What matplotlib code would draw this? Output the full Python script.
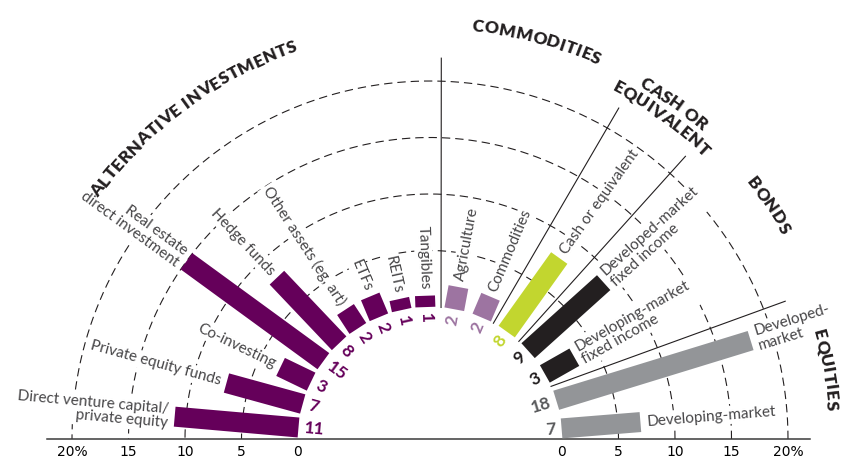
import numpy as np
import matplotlib
matplotlib.use("Agg")
import matplotlib.pyplot as plt
from matplotlib.font_manager import FontProperties, findfont, get_font
from matplotlib.transforms import Affine2D

# values (% of allocation)
categories = [
    "Direct venture capital/\nprivate equity", "Private equity funds", "Co-investing",
    "Real estate\ndirect investment", "Hedge funds", "Other assets (eg, art)",
    "ETFs", "REITs", "Tangibles",
    "Agriculture", "Commodities",
    "Cash or equivalent",
    "Developed-market\nfixed income", "Developing-market\nfixed income",
    "Developed-\nmarket", "Developing-market",
]
values = [11, 7, 3, 15, 8, 2, 2, 1, 1, 2, 2, 8, 9, 3, 18, 7]
groups = (["alt"] * 9 + ["comm"] * 2 + ["cash"] + ["bonds"] * 2 + ["eq"] * 2)
group_titles = ["ALTERNATIVE INVESTMENTS", "COMMODITIES", "CASH OR", "EQUIVALENT",
                "BONDS", "EQUITIES"]
scale_ticks = [20, 15, 10, 5, 0]
grid_levels = [5, 10, 15, 20]

bar_colors = {"alt": "#65005a", "comm": "#9d74a1", "cash": "#c2d62f",
              "bonds": "#231f20", "eq": "#939598"}
value_colors = {"alt": "#65005a", "comm": "#9d74a1", "cash": "#c2d62f",
                "bonds": "#231f20", "eq": "#58595b"}

# layout (pixels -> data units, one unit = one percentage point)
DPI = 100
S = 11.3                  # px per percentage point
CX, CY = 430, 439         # centre of the half circle in px
R0 = 132 / S              # hole radius
BW = 20 / S               # bar thickness
PAD = 0.55
TEXT = "#464547"

n_left = groups.count("alt")
n_right = len(values) - n_left
angles = np.concatenate([np.linspace(175, 92, n_left), np.linspace(79.4, 4.6, n_right)])

fig = plt.figure(figsize=(842 / DPI, 459 / DPI), dpi=DPI)
ax = fig.add_axes([0, 0, 1, 1])
ax.set_xlim(-CX / S, (842 - CX) / S)
ax.set_ylim(-(459 - CY) / S, CY / S)

fp_label = FontProperties(family="Lato", weight="normal", size=11)
fp_value = FontProperties(family="Lato", weight="bold", size=12.5)
fp_title = FontProperties(family="Lato", weight="heavy", size=12.5)
fp_tick = FontProperties(family="Lato", weight="normal", size=12.5)

# dashed rings
t = np.linspace(0, np.pi, 500)
for lv in grid_levels:
    r = R0 + lv
    ax.plot(r * np.cos(t), r * np.sin(t), color="#231f20", lw=0.8,
            dashes=(7.5, 4.5), zorder=1)

# group separators (inner angle, outer angle)
seps = [(85.2, 88.3), (61.3, 60.3), (47.7, 47.9), (23.5, 21.2)]
r_out = 381 / S
for a_in, a_out in seps:
    ai, ao = np.radians(a_in), np.radians(a_out)
    ax.plot([R0 * np.cos(ai), r_out * np.cos(ao)], [R0 * np.sin(ai), r_out * np.sin(ao)],
            color="#231f20", lw=0.8, zorder=2)

# bars, labels, values
for cat, v, g, th in zip(categories, values, groups, angles):
    tr = Affine2D().rotate_deg(th) + ax.transData
    ax.barh(0, v, left=R0, height=BW, color=bar_colors[g], transform=tr, zorder=4)
    u = np.array([np.cos(np.radians(th)), np.sin(np.radians(th))])
    left = th > 90
    rot = th - 180 if left else th
    p_val = (R0 - PAD) * u
    ax.text(p_val[0], p_val[1], str(v), fontproperties=fp_value, color=value_colors[g],
            rotation=rot, rotation_mode="anchor", ha="left" if left else "right",
            va="center", zorder=5)
    p_lab = (R0 + v + PAD) * u
    ax.text(p_lab[0], p_lab[1], cat, fontproperties=fp_label, color=TEXT,
            rotation=rot, rotation_mode="anchor", ha="right" if left else "left",
            multialignment="right" if left else "left", va="center", linespacing=1.05,
            bbox=dict(facecolor="white", edgecolor="none", pad=1.5), zorder=3)


def arc_text(s, r_px, mid, fp):
    font = get_font(findfont(fp))
    font.set_size(fp.get_size_in_points(), 72)
    adv = []
    for ch in s:
        adv.append(font.load_char(ord(ch)).linearHoriAdvance / 65536 + 0.3)
    adv = np.array(adv) * DPI / 72 / S
    r = (r_px - 6) / S
    start = np.radians(mid) + adv.sum() / r / 2
    pos = np.cumsum(adv) - adv / 2
    for ch, p in zip(s, pos):
        a = start - p / r
        ax.text(r * np.cos(a), r * np.sin(a), ch, fontproperties=fp, color="#231f20",
                rotation=np.degrees(a) - 90, rotation_mode="anchor",
                ha="center", va="baseline", zorder=5)


title_pos = [(126.4, 416), (75.0, 416), (54.0, 416), (54.2, 399), (34.6, 413), (9.9, 404)]
for title, (mid, rp) in zip(group_titles, title_pos):
    arc_text(title, rp, mid, fp_title)

# bottom scale
tick_pos = [-(R0 + v) for v in scale_ticks] + [R0 + v for v in scale_ticks[::-1]]
tick_lab = [f"{v}%" if v == 20 else str(v) for v in scale_ticks]
tick_lab = tick_lab + tick_lab[::-1]
ax.set_xticks(tick_pos, tick_lab)
ax.set_yticks([])
for lab in ax.get_xticklabels():
    lab.set_fontproperties(fp_tick)
    lab.set_color(TEXT)
ax.tick_params(axis="x", length=0, pad=4)
for side in ["top", "left", "right"]:
    ax.spines[side].set_visible(False)
ax.spines["bottom"].set_position(("data", 0))
ax.spines["bottom"].set_bounds((47 - CX) / S, (810 - CX) / S)
ax.spines["bottom"].set_color("#3a3a3a")
ax.spines["bottom"].set_linewidth(1.1)
ax.patch.set_visible(False)

fig.savefig("out.png", dpi=DPI)
